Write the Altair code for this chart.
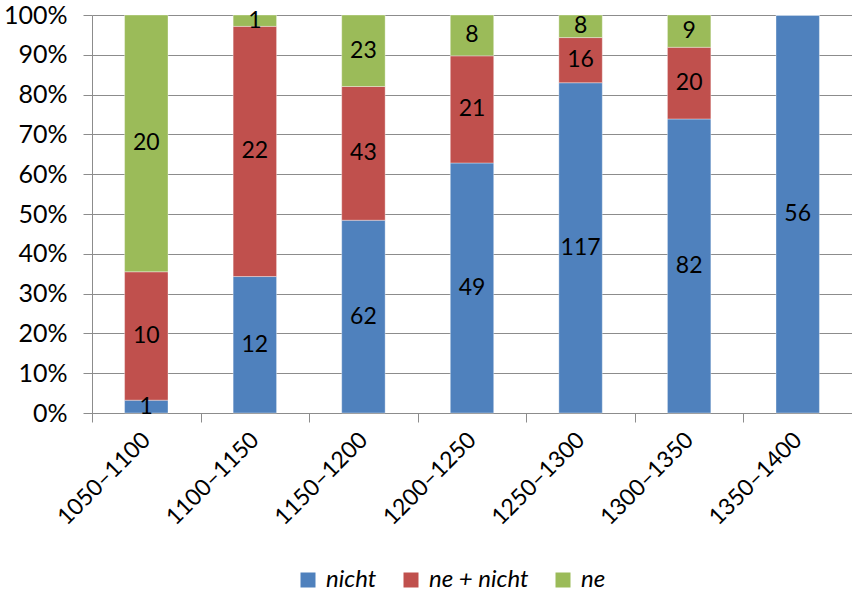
import altair as alt
import pandas as pd

# Period bins and counts per negation type
periods = ["1050–1100", "1100–1150", "1150–1200", "1200–1250",
           "1250–1300", "1300–1350", "1350–1400"]
series = ["nicht", "ne + nicht", "ne"]
nicht = [1, 12, 62, 49, 117, 82, 56]
ne_nicht = [10, 22, 43, 21, 16, 20, 0]
ne = [20, 1, 23, 8, 8, 9, 0]
colors = ["#4F81BD", "#C0504D", "#9BBB59"]
y_ticks = [0, 0.1, 0.2, 0.3, 0.4, 0.5, 0.6, 0.7, 0.8, 0.9, 1.0]

rows = []
for i, p in enumerate(periods):
    for k, (name, vals) in enumerate(zip(series, [nicht, ne_nicht, ne])):
        rows.append({"period": p, "series": name, "value": vals[i], "order": k})
df = pd.DataFrame(rows)

FONT = "Lato"
GRID = "#8C8C8C"

base = alt.Chart(df).transform_stack(
    stack="value",
    as_=["y0", "y1"],
    groupby=["period"],
    offset="normalize",
    sort=[alt.SortField("order", order="ascending")],
).transform_calculate(mid="(datum.y0 + datum.y1) / 2")

x_axis = alt.Axis(
    labelAngle=-45,
    labelAlign="right",
    labelBaseline="middle",
    tickBand="extent",
    tickSize=9,
    tickColor=GRID,
    domainColor=GRID,
    labelPadding=14,
    labelFontSize=23,
    labelFont=FONT,
    labelColor="black",
    labelOverlap=False,
    grid=False,
)
# full-step bands so the category ticks fall between the bars
x_scale = alt.Scale(paddingInner=0, paddingOuter=0)

y_axis = alt.Axis(
    format="%",
    values=y_ticks,
    tickSize=9,
    tickColor=GRID,
    domainColor=GRID,
    grid=True,
    gridColor=GRID,
    gridWidth=1,
    labelPadding=16,
    labelFontSize=25,
    labelFont=FONT,
    labelColor="black",
    labelOverlap=False,
    labelFlush=False,
)
y_scale = alt.Scale(domain=[0, 1], nice=False)

bars = base.mark_bar(
    width=alt.RelativeBandSize(0.4),
    stroke="white", strokeWidth=0.6, strokeOpacity=0.6,
).encode(
    x=alt.X("period:N", sort=periods, title=None, scale=x_scale, axis=x_axis),
    y=alt.Y("y0:Q", title=None, scale=y_scale, axis=y_axis),
    y2="y1:Q",
    color=alt.Color(
        "series:N",
        scale=alt.Scale(domain=series, range=colors),
        legend=alt.Legend(
            title=None,
            orient="none",
            direction="horizontal",
            legendX=204,
            legendY=553,
            symbolType="square",
            symbolSize=225,
            symbolStrokeWidth=0,
            labelFont=FONT,
            labelFontSize=24,
            labelFontStyle="italic",
            labelColor="black",
            labelOffset=6,
            columnPadding=22,
            padding=0,
        ),
    ),
)

labels = base.transform_filter("datum.value > 0").mark_text(
    font=FONT, fontSize=23, color="black", baseline="middle", align="center"
).encode(
    x=alt.X("period:N", sort=periods, title=None, scale=x_scale, axis=x_axis),
    y=alt.Y("mid:Q", title=None, scale=y_scale, axis=y_axis),
    text="value:Q",
)

chart = (
    alt.layer(bars, labels)
    .properties(
        width=760,
        height=398,
        padding={"left": 92, "top": 15, "right": 0, "bottom": 183},
        autosize=alt.AutoSizeParams(type="none"),
    )
    .configure_view(stroke=None)
)

chart.save("out.html", embed_options={"renderer": "svg", "actions": False})
